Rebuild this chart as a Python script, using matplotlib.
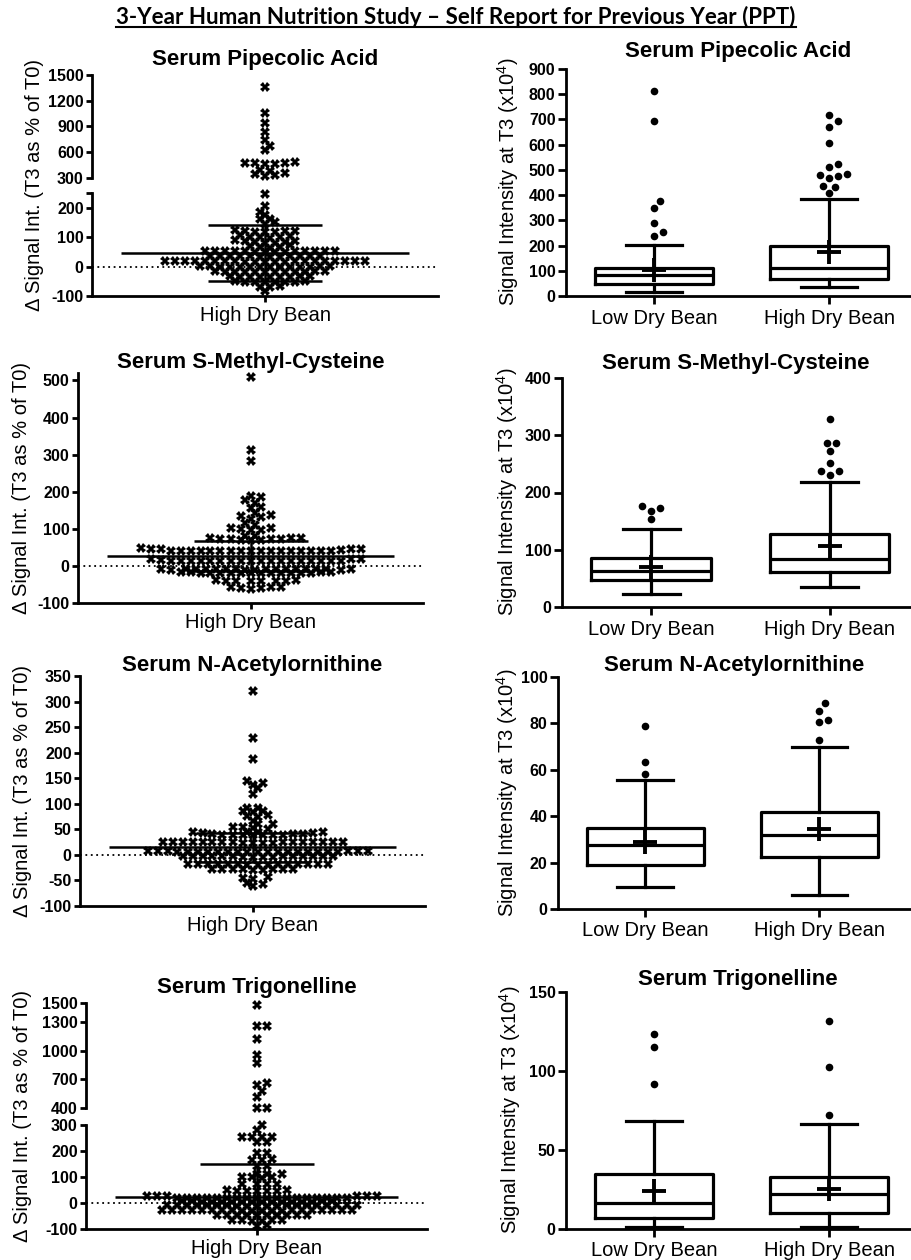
import numpy as np
import matplotlib.pyplot as plt
from matplotlib.lines import Line2D

plt.rcParams['font.family'] = ['Liberation Sans', 'DejaVu Sans']
plt.rcParams['mathtext.default'] = 'regular'

# ---------------- data ----------------
main_title = '3-Year Human Nutrition Study \u2013 Self Report for Previous Year (PPT)'
titles = ['Serum Pipecolic Acid', 'Serum S-Methyl-Cysteine',
          'Serum N-Acetylornithine', 'Serum Trigonelline']
groups = ['Low Dry Bean', 'High Dry Bean']
delta_group = 'High Dry Bean'

# left column: change T0 -> T3 (% of T0), one value per subject
pip_delta = [1360, 1060, 940, 840, 740, 670, 630, 485, 475, 470, 465, 460, 480,
             395, 380, 360, 350, 330, 325,
             248, 207, 186, 175, 163, 160, 150, 145,
             124, 120, 117, 122, 119, 121, 118,
             107, 101, 99, 104, 97, 102,
             90, 84, 88, 81, 86, 83, 79,
             72, 66, 70, 63, 68,
             52, 53, 51, 52, 52, 53, 51, 52, 53, 51, 52, 52, 51, 53,
             35, 36, 34, 35, 35, 36, 34, 35, 36, 35, 34, 35,
             18, 18, 19, 17, 18, 18, 19, 17, 18, 18, 19, 17, 18, 18, 19, 17, 18, 18, 19, 17, 18,
             0, 1, -1, 0, 0, 1, -1, 0, 0, 1, -1, 0, 1, -1,
             -17, -16, -18, -17, -17, -16, -18, -17, -16, -18, -17, -17,
             -34, -33, -35, -34, -34, -33, -35, -34, -33,
             -51, -50, -52, -51, -51, -50, -52, -51,
             -68, -67, -69, -83]
smc_delta = [510, 312, 282, 188, 186, 178, 170, 160, 155, 143, 136, 135, 133, 127,
             115, 110, 103, 103, 100, 97, 97,
             81, 80, 76, 74, 72, 71, 72, 73, 70, 72, 75, 69,
             46, 45, 47, 45, 46, 44,
             40, 40, 41, 39, 40, 40, 41, 39, 40, 40, 41, 39, 40, 40, 41, 39, 40,
             18, 19, 18, 17,
             13, 13, 14, 12, 13, 13, 14, 12, 13, 13, 14, 12, 13, 13, 14, 12, 13, 13,
             -9, -9, -8, -10, -9, -9, -8, -10, -9, -9, -8, -10, -9, -9, -8, -10, -9, -9, -8,
             -18, -18, -17, -19, -18, -18, -17, -19, -18, -18, -17, -19, -18, -18, -17, -18,
             -40, -41, -39, -40, -42, -38, -40, -41,
             -58, -59, -57, -60, -58, -61]
nao_delta = [320, 228, 187, 145, 140, 137, 130, 120,
             92, 92, 85, 85, 83, 78, 77, 75, 67, 60, 60, 55, 55, 52, 50,
             44, 43, 44, 45, 43, 44,
             39, 39, 40, 38, 39, 39, 40, 38, 39, 40,
             25, 25, 26, 24, 25, 25, 26, 24, 25, 25, 26, 24, 25, 25, 26, 24, 25, 25, 26,
             6, 6, 7, 5, 6, 6, 7, 5, 6, 6, 7, 5, 6, 6, 7, 5, 6, 6, 7, 5, 6, 6, 7,
             -3, -3, -2, -4, -3, -3, -2, -4, -3, -3, -2, -4, -3, -3, -2, -4,
             -18, -18, -17, -19, -18, -18, -17, -19, -18, -18, -17, -19, -18, -18, -17,
             -28, -28, -27, -29, -28, -27, -29, -28, -28,
             -45, -47, -44, -55, -57, -61]
tri_delta = [1480, 1255, 1255, 1120, 960, 870, 665, 645, 575, 520, 400, 400,
             300, 279, 253, 253, 252, 254, 236, 236, 193, 193, 167, 165, 168, 144, 144,
             112, 110, 113, 100, 98, 101, 99, 74, 74, 73, 75, 48, 47, 49, 48, 50, 46, 48,
             27, 28, 27, 26, 28, 27,
             20, 20, 21, 19, 20, 20, 21, 19, 20, 20, 21, 19, 20, 20, 21, 19, 20, 20,
             5, 5, 6, 4, 5, 5, 6, 4, 5, 5, 6, 4, 5, 5, 6, 4,
             -9, -9, -8, -10, -9, -9, -8, -10, -9, -9, -8, -10, -9, -9, -8, -10, -9, -9, -8, -10,
             -28, -28, -27, -29, -28, -28, -27, -29, -28, -28, -27, -29, -28, -28, -27, -29, -28, -28, -27, -29,
             -47, -46, -48, -47, -47, -46, -48, -47, -46, -48,
             -67, -66, -68, -67, -66, -68, -86, -88]
delta_center = [45, 27, 15, 23]
delta_upper = [140, 68, 43, 151]
delta_lower = [-50, -15, -13, -105]

# right column: signal intensity at T3 (x10^4), [low, high]
box_lo = [[17, 34], [22, 35], [9.3, 6.2], [1.3, 1.3]]
box_q1 = [[46, 66], [48, 61], [19, 22.3], [6.7, 10.1]]
box_med = [[82, 112], [63, 84], [27.7, 31.8], [16.4, 22.1]]
box_q3 = [[112, 200], [85, 127], [34.9, 41.8], [34.9, 33.2]]
box_hi = [[202, 385], [136, 218], [55.7, 69.7], [68.6, 66.5]]
box_mean = [[103, 176], [70, 107], [28.9, 34.6], [23.8, 25.2]]
pip_fliers = [[812, 692, 378, 348, 288, 255, 236],
              [719, 692, 670, 606, 524, 510, 484, 476, 467, 478, 437, 434, 408]]
smc_fliers = [[177, 173, 168, 153], [329, 287, 286, 273, 251, 238, 238, 231]]
nao_fliers = [[78.7, 63.2, 58], [88.8, 85.5, 81.6, 80.6, 72.7]]
tri_fliers = [[123.3, 114.9, 91.7], [131.7, 102.7, 72.2]]

deltas = [pip_delta, smc_delta, nao_delta, tri_delta]
fliers = [pip_fliers, smc_fliers, nao_fliers, tri_fliers]

# ---------------- layout (pixels, y from top) ----------------
W, H = 911, 1260
fig = plt.figure(figsize=(W / 100, H / 100), dpi=100, facecolor='white')


def add_ax(x0, x1, y0, y1):
    return fig.add_axes([x0 / W, 1 - y1 / H, (x1 - x0) / W, (y1 - y0) / H])


def cross_hit(dx, dy):
    # same row: a full marker width apart; neighbouring rows may interleave
    return ((dy < 3) & (dx < 9.5)) | ((dy < 7) & (dx < 4.5))


def dot_hit(dx, dy):
    return dx ** 2 + dy ** 2 < 8.5 ** 2


def swarm(ax, xc, vals, step, hit):
    # spread points sideways (in pixels) so marks do not sit on each other
    vals = np.asarray(vals, dtype=float)
    pix = ax.transData.transform(np.column_stack([np.full(vals.size, xc), vals]))
    x0, ys = pix[0, 0], pix[:, 1]
    cands = [0.0]
    for k in range(1, 80):
        cands += [k * step, -k * step]
    px, py = [], []
    offs = np.zeros(vals.size)
    for i in np.argsort(vals, kind='stable'):
        pa, qa = np.array(px), np.array(py)
        for c in cands:
            if pa.size == 0 or not np.any(hit(np.abs(c - pa), np.abs(ys[i] - qa))):
                break
        offs[i] = c
        px.append(c)
        py.append(ys[i])
    return ax.transData.inverted().transform(np.column_stack([x0 + offs, ys]))[:, 0]


def clean(ax, bottom=True, ylen=4.5):
    ax.spines['top'].set_visible(False)
    ax.spines['right'].set_visible(False)
    ax.spines['left'].set_linewidth(2)
    ax.spines['bottom'].set_linewidth(2)
    ax.spines['bottom'].set_visible(bottom)
    ax.tick_params(axis='y', length=ylen, width=2, pad=1.5)
    ax.tick_params(axis='x', length=4.5, width=2, pad=3)
    if not bottom:
        ax.set_xticks([])


# left column: segments = (y_top_px, y_bot_px, ylim, ticks)
left_x = [(92, 438), (78, 423), (80, 425), (86, 427)]
left_segs = [
    [(75, 178, (300, 1500), [300, 600, 900, 1200, 1500]),
     (193, 296, (-100, 250), [-100, 0, 100, 200, 250])],
    [(373, 603, (-100, 520), [-100, 0, 100, 200, 300, 400, 500])],
    [(676, 906, (-100, 350), [-100, -50, 0, 50, 100, 150, 200, 250, 300, 350])],
    [(1003, 1108, (400, 1500), [400, 700, 1000, 1300, 1500]),
     (1125, 1229, (-100, 300), [-100, 0, 100, 200, 300])],
]
left_title_y = [60, 362, 665, 988]
left_label_xy = [(35, 185), (22, 488), (23, 791), (23, 1116)]

for p in range(4):
    x0, x1 = left_x[p]
    segs = left_segs[p]
    vals = np.asarray(deltas[p], dtype=float)
    axes = []
    for j, (yt, yb, ylim, ticks) in enumerate(segs):
        ax = add_ax(x0, x1, yt, yb)
        ax.set_xlim(-1, 1)
        ax.set_ylim(*ylim)
        last = j == len(segs) - 1
        clean(ax, bottom=last)
        labels = ['' if (t == 250 and p == 0) else str(t) for t in ticks]
        ax.set_yticks(ticks, labels, fontsize=11.5, fontweight='bold')
        if last:
            sel = vals <= ylim[1]
        else:
            sel = vals > segs[j + 1][2][1]
        v = vals[sel]
        xs = swarm(ax, 0, v, 5, cross_hit)
        ax.plot(xs, v, ls='none', marker='X', ms=7, mew=0, color='k',
                clip_on=False, zorder=2)
        axes.append(ax)
    top, bot = axes[0], axes[-1]
    bot.axhline(0, color='k', lw=1.3, ls=(0, (1, 2)), zorder=1)
    c = delta_center[p]
    bot.hlines(c, -0.83, 0.83, color='k', lw=1.8, zorder=3)
    bot.errorbar(0, c, yerr=[[c - delta_lower[p]], [delta_upper[p] - c]],
                 color='k', elinewidth=1.8, capsize=41, capthick=1.8, zorder=3)
    bot.set_xticks([0], [delta_group], fontsize=14.5)
    yt, yb = segs[0][0], segs[0][1]
    top.set_title(titles[p], y=(yb - left_title_y[p]) / (yb - yt), va='center',
                  pad=0, fontsize=16, fontweight='bold')
    lx, ly = left_label_xy[p]
    fig.text(lx / W, 1 - ly / H, '\u0394 Signal Int. (T3 as % of T0)', rotation=90,
             ha='center', va='center', fontsize=14.5)

# right column
right_box = [(566, 910, 69, 296), (562, 910, 378, 607), (558, 910, 677, 909), (566, 910, 992, 1229)]
right_ylim = [(0, 900), (0, 400), (0, 100), (0, 150)]
right_ticks = [list(range(0, 901, 100)), list(range(0, 401, 100)),
               list(range(0, 101, 20)), [0, 50, 100, 150]]
right_xlim = [(-0.5, 1.46), (-0.5, 1.45), (-0.5, 1.52), (-0.5, 1.46)]
right_title_y = [52, 364, 665, 980]
right_label_xy = [(508, 182), (507, 492), (507, 793), (510, 1110)]

lw = 2.3
for p in range(4):
    x0, x1, yt, yb = right_box[p]
    ax = add_ax(x0, x1, yt, yb)
    ax.set_xlim(*right_xlim[p])
    ax.set_ylim(*right_ylim[p])
    clean(ax, ylen=6)
    ax.tick_params(axis='x', length=6)
    stats = []
    for g in range(2):
        stats.append(dict(whislo=box_lo[p][g], q1=box_q1[p][g], med=box_med[p][g],
                          q3=box_q3[p][g], whishi=box_hi[p][g], mean=box_mean[p][g],
                          fliers=fliers[p][g], label=groups[g]))
    ax.bxp(stats, positions=[0, 1], widths=0.67, capwidths=0.32, showmeans=True,
           showfliers=False, manage_ticks=False,
           boxprops=dict(color='k', linewidth=lw),
           whiskerprops=dict(color='k', linewidth=lw),
           capprops=dict(color='k', linewidth=lw),
           medianprops=dict(color='k', linewidth=lw),
           meanprops=dict(marker='+', markersize=17, markeredgewidth=2.8,
                          markeredgecolor='k', markerfacecolor='k'))
    for g in range(2):
        fv = np.asarray(fliers[p][g], dtype=float)
        fx = swarm(ax, g, fv, 3, dot_hit)
        ax.plot(fx, fv, ls='none', marker='o', ms=5.5, color='k', mew=0, clip_on=False)
    ax.set_xticks([0, 1], groups, fontsize=14.5)
    ax.set_yticks(right_ticks[p], [str(t) for t in right_ticks[p]],
                  fontsize=11.5, fontweight='bold')
    ax.set_title(titles[p], y=(yb - right_title_y[p]) / (yb - yt), va='center',
                 pad=0, fontsize=16, fontweight='bold')
    lx, ly = right_label_xy[p]
    fig.text(lx / W, 1 - ly / H, 'Signal Intensity at T3 (x10$^4$)', rotation=90,
             ha='center', va='center', fontsize=14.5)

# main title, underlined
t = fig.text(456 / W, 1 - 17 / H, main_title, ha='center', va='center',
             fontsize=15, fontweight='bold', family=['Lato', 'DejaVu Sans'])
fig.canvas.draw()
wpx = t.get_window_extent().width
t.set_fontsize(15 * 682 / wpx)
fig.canvas.draw()
bb = t.get_window_extent()
fig.add_artist(Line2D([bb.x0 / W, bb.x1 / W], [1 - 27 / H, 1 - 27 / H],
                      transform=fig.transFigure, color='k', lw=1.5))

fig.savefig('out.png', dpi=100, facecolor='white')
